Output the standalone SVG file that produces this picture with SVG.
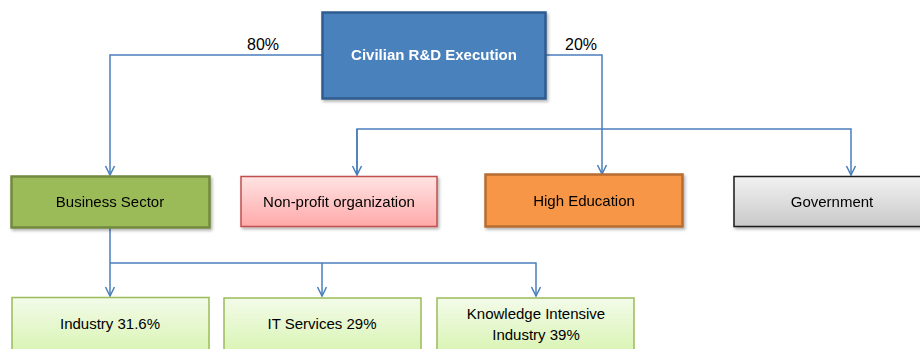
<svg xmlns="http://www.w3.org/2000/svg" width="920" height="349" viewBox="0 0 920 349">
<defs>
<linearGradient id="gPink" x1="0" y1="0" x2="0" y2="1"><stop offset="0" stop-color="#ffe3e3"/><stop offset="1" stop-color="#ffa9a9"/></linearGradient>
<linearGradient id="gGray" x1="0" y1="0" x2="0" y2="1"><stop offset="0" stop-color="#f2f2f2"/><stop offset="1" stop-color="#c9c9c9"/></linearGradient>
<linearGradient id="gGreen" x1="0" y1="0" x2="0" y2="1"><stop offset="0" stop-color="#f3fbe9"/><stop offset="1" stop-color="#d9f4b3"/></linearGradient>
<filter id="sh" x="-5%" y="-10%" width="115%" height="130%"><feDropShadow dx="1.5" dy="2" stdDeviation="1.5" flood-color="#000" flood-opacity="0.3"/></filter>
<marker id="arr" markerWidth="12" markerHeight="12" refX="10" refY="6" orient="auto" markerUnits="userSpaceOnUse"><path d="M1,1.5 L10,6 L1,10.5" fill="none" stroke="#4a7ebb" stroke-width="1.5"/></marker>
</defs>
<style>
.c{fill:none;stroke:#4a7ebb;stroke-width:1.5}
.t{font-family:"Liberation Sans",Arial,sans-serif;font-size:15px;fill:#000;text-anchor:middle}
.w{font-family:"Liberation Sans",Arial,sans-serif;font-size:15px;font-weight:bold;fill:#fff;text-anchor:middle}
.l{font-family:"Liberation Sans",Arial,sans-serif;font-size:16px;fill:#000;text-anchor:middle}
</style>
<g id="connectors">
<path class="c" d="M322,55 H110 V175" marker-end="url(#arr)"/>
<path class="c" d="M546,55 H602 V174" marker-end="url(#arr)"/>
<path class="c" d="M357,175 V129 H851 V175" marker-end="url(#arr)"/>
<path class="c" d="M357,129 V175" marker-end="url(#arr)"/>
<path class="c" d="M110,228 V296" marker-end="url(#arr)"/>
<path class="c" d="M110,263 H536 V296" marker-end="url(#arr)"/>
<path class="c" d="M322,263 V296" marker-end="url(#arr)"/>
<text class="l" x="263" y="50">80%</text>
<text class="l" x="581" y="50">20%</text>
</g>
<g id="civilian" filter="url(#sh)">
<rect x="322.5" y="12.5" width="223" height="86" fill="#4a81bc" stroke="#2f5c8f" stroke-width="2.5"/>
<text class="w" x="434" y="60">Civilian  R&amp;D Execution</text>
</g>
<g id="business" filter="url(#sh)">
<rect x="11.5" y="176.5" width="198" height="51" fill="#9bbb59" stroke="#71893f" stroke-width="2.5"/>
<text class="t" x="110" y="207">Business Sector</text>
</g>
<g id="nonprofit" filter="url(#sh)">
<rect x="241" y="176.5" width="196" height="50" fill="url(#gPink)" stroke="#c0504d" stroke-width="1.5"/>
<text class="t" x="339" y="207">Non-profit organization</text>
</g>
<g id="higher" filter="url(#sh)">
<rect x="485.5" y="174.5" width="197" height="52" fill="#f79646" stroke="#b66d31" stroke-width="2.5"/>
<text class="t" x="584" y="206">High Education</text>
</g>
<g id="government" filter="url(#sh)">
<rect x="734" y="176.5" width="190" height="50" fill="url(#gGray)" stroke="#1a1a1a" stroke-width="1.5"/>
<text class="t" x="832" y="207">Government</text>
</g>
<g id="industry">
<rect x="12" y="297.5" width="197" height="55" fill="url(#gGreen)" stroke="#9bbb59" stroke-width="1.5"/>
<text class="t" x="110" y="329">Industry 31.6%</text>
</g>
<g id="itservices">
<rect x="224" y="298" width="197" height="55" fill="url(#gGreen)" stroke="#9bbb59" stroke-width="1.5"/>
<text class="t" x="322" y="329">IT Services 29%</text>
</g>
<g id="knowledge">
<rect x="437" y="298" width="197" height="55" fill="url(#gGreen)" stroke="#9bbb59" stroke-width="1.5"/>
<text class="t" x="536" y="319">Knowledge Intensive</text>
<text class="t" x="536" y="340">Industry 39%</text>
</g>
</svg>
